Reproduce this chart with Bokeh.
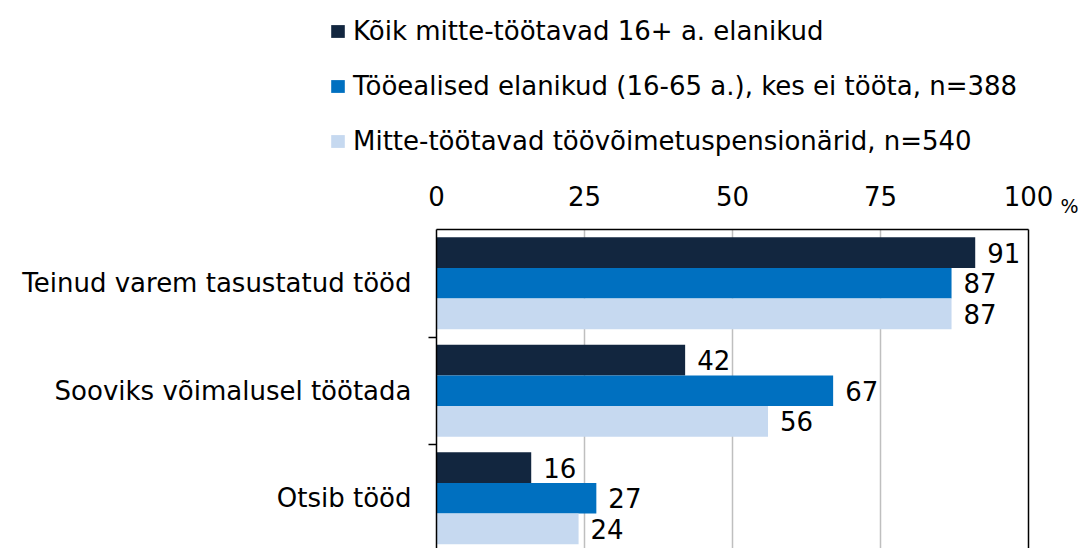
from bokeh.plotting import figure
from bokeh.layouts import column
from bokeh.models import (Range1d, FixedTicker, Legend, LegendItem,
                          ColumnDataSource, LinearAxis, CustomJSTickFormatter)
from bokeh.embed import file_html
from bokeh.resources import INLINE
from bokeh.core.properties import value

categories = ["Teinud varem tasustatud tööd", "Sooviks võimalusel töötada", "Otsib tööd"]
series_names = ["Kõik mitte-töötavad 16+ a. elanikud",
                "Tööealised elanikud (16-65 a.), kes ei tööta, n=388",
                "Mitte-töötavad töövõimetuspensionärid, n=540"]
all_nonworking = [91, 42, 16]
working_age = [87, 67, 27]
disability_pens = [87, 56, 24]
x_ticks = [0, 25, 50, 75, 100]
colors = ["#12263F", "#0070C0", "#C6D9F0"]

FONT = "DejaVu Sans"
FS = "26px"
cat_pos = [3, 2, 1]
offsets = [0.285, 0.0, -0.285]
bar_h = 0.285

W = 1081
LEG_H = 170
MAIN_H = 548 - LEG_H

# ---------------- main chart ----------------
p = figure(width=W, height=MAIN_H, x_range=Range1d(0, 100),
           y_range=Range1d(3.5 - (MAIN_H - 59) / 107.5, 3.5),
           x_axis_location="above", output_backend="svg", toolbar_location=None,
           min_border_left=436, min_border_right=51, min_border_top=59, min_border_bottom=0)
p.outline_line_color = None

sources = []
for vals, off, col in zip([all_nonworking, working_age, disability_pens], offsets, colors):
    src = ColumnDataSource(dict(y=[c + off for c in cat_pos], right=vals,
                                label=[str(v) for v in vals]))
    sources.append(src)
    p.hbar(y="y", left=0, right="right", height=bar_h, source=src,
           fill_color=col, line_color=None)
    p.text(x="right", y="y", text="label", source=src, x_offset=12,
           text_align="left", text_baseline="middle", text_color="black",
           text_font=value(FONT), text_font_size=FS)

# top axis
xa = p.xaxis[0]
xa.ticker = FixedTicker(ticks=x_ticks)
xa.major_tick_in = 0
xa.major_tick_out = 0
xa.minor_tick_in = 0
xa.minor_tick_out = 0
xa.axis_line_color = "black"
xa.axis_line_width = 1.5
xa.major_label_standoff = 24
xa.major_label_text_font = FONT
xa.major_label_text_font_size = FS
xa.major_label_text_color = "black"

# left axis
ya = p.yaxis[0]
ya.ticker = FixedTicker(ticks=cat_pos, minor_ticks=[1.5, 2.5])
ya.major_label_overrides = {c: lab for c, lab in zip(cat_pos, categories)}
ya.major_tick_in = 0
ya.major_tick_out = 0
ya.minor_tick_in = 0
ya.minor_tick_out = 8
ya.minor_tick_line_color = "black"
ya.minor_tick_line_width = 1.5
ya.axis_line_color = "black"
ya.axis_line_width = 1.5
ya.major_label_standoff = 17
ya.major_label_text_font = FONT
ya.major_label_text_font_size = FS
ya.major_label_text_color = "black"

# right frame line, carrying the "%" unit sign at the top
ra = LinearAxis(ticker=FixedTicker(ticks=[3.5]),
                formatter=CustomJSTickFormatter(code="return '%\\n\\n';"),
                axis_line_color="black", axis_line_width=1.5,
                major_tick_out=0, major_tick_in=0, minor_tick_out=0, minor_tick_in=0,
                major_label_standoff=32, major_label_text_font=FONT,
                major_label_text_font_size="19px", major_label_text_color="black",
                major_label_text_baseline="middle", major_label_text_align="left",
                major_label_text_line_height=1.05)
p.add_layout(ra, "right")

p.xgrid.ticker = FixedTicker(ticks=x_ticks)
p.xgrid.grid_line_color = "#BFBFBF"
p.xgrid.grid_line_width = 1.5
p.ygrid.grid_line_color = None

# ---------------- legend strip ----------------
# the legend renderers share the bar data but lie outside this strip's ranges
pl = figure(width=W, height=LEG_H, x_range=Range1d(1000, 1001), y_range=Range1d(100, 101),
            output_backend="svg", toolbar_location=None,
            min_border_left=0, min_border_right=0, min_border_top=0, min_border_bottom=0)
pl.frame_align = False
pl.axis.visible = False
pl.grid.grid_line_color = None
pl.outline_line_color = None

leg_bottom_y = [124, 69, 14]
for name, col, src, ly in zip(series_names, colors, sources, leg_bottom_y):
    r = pl.hbar(y="y", left=0, right="right", height=bar_h, source=src,
                fill_color=col, line_color=None)
    leg = Legend(items=[LegendItem(label=value(name), renderers=[r])], location=(329, ly),
                 orientation="vertical", padding=0, margin=0, border_line_color=None,
                 background_fill_alpha=0, glyph_width=17, glyph_height=16, label_standoff=7,
                 label_text_font=FONT, label_text_font_size="26px",
                 label_text_baseline="middle", label_text_color="black")
    pl.add_layout(leg, "center")

layout = column(pl, p, spacing=0)
open("out.html", "w").write(file_html(layout, INLINE))
